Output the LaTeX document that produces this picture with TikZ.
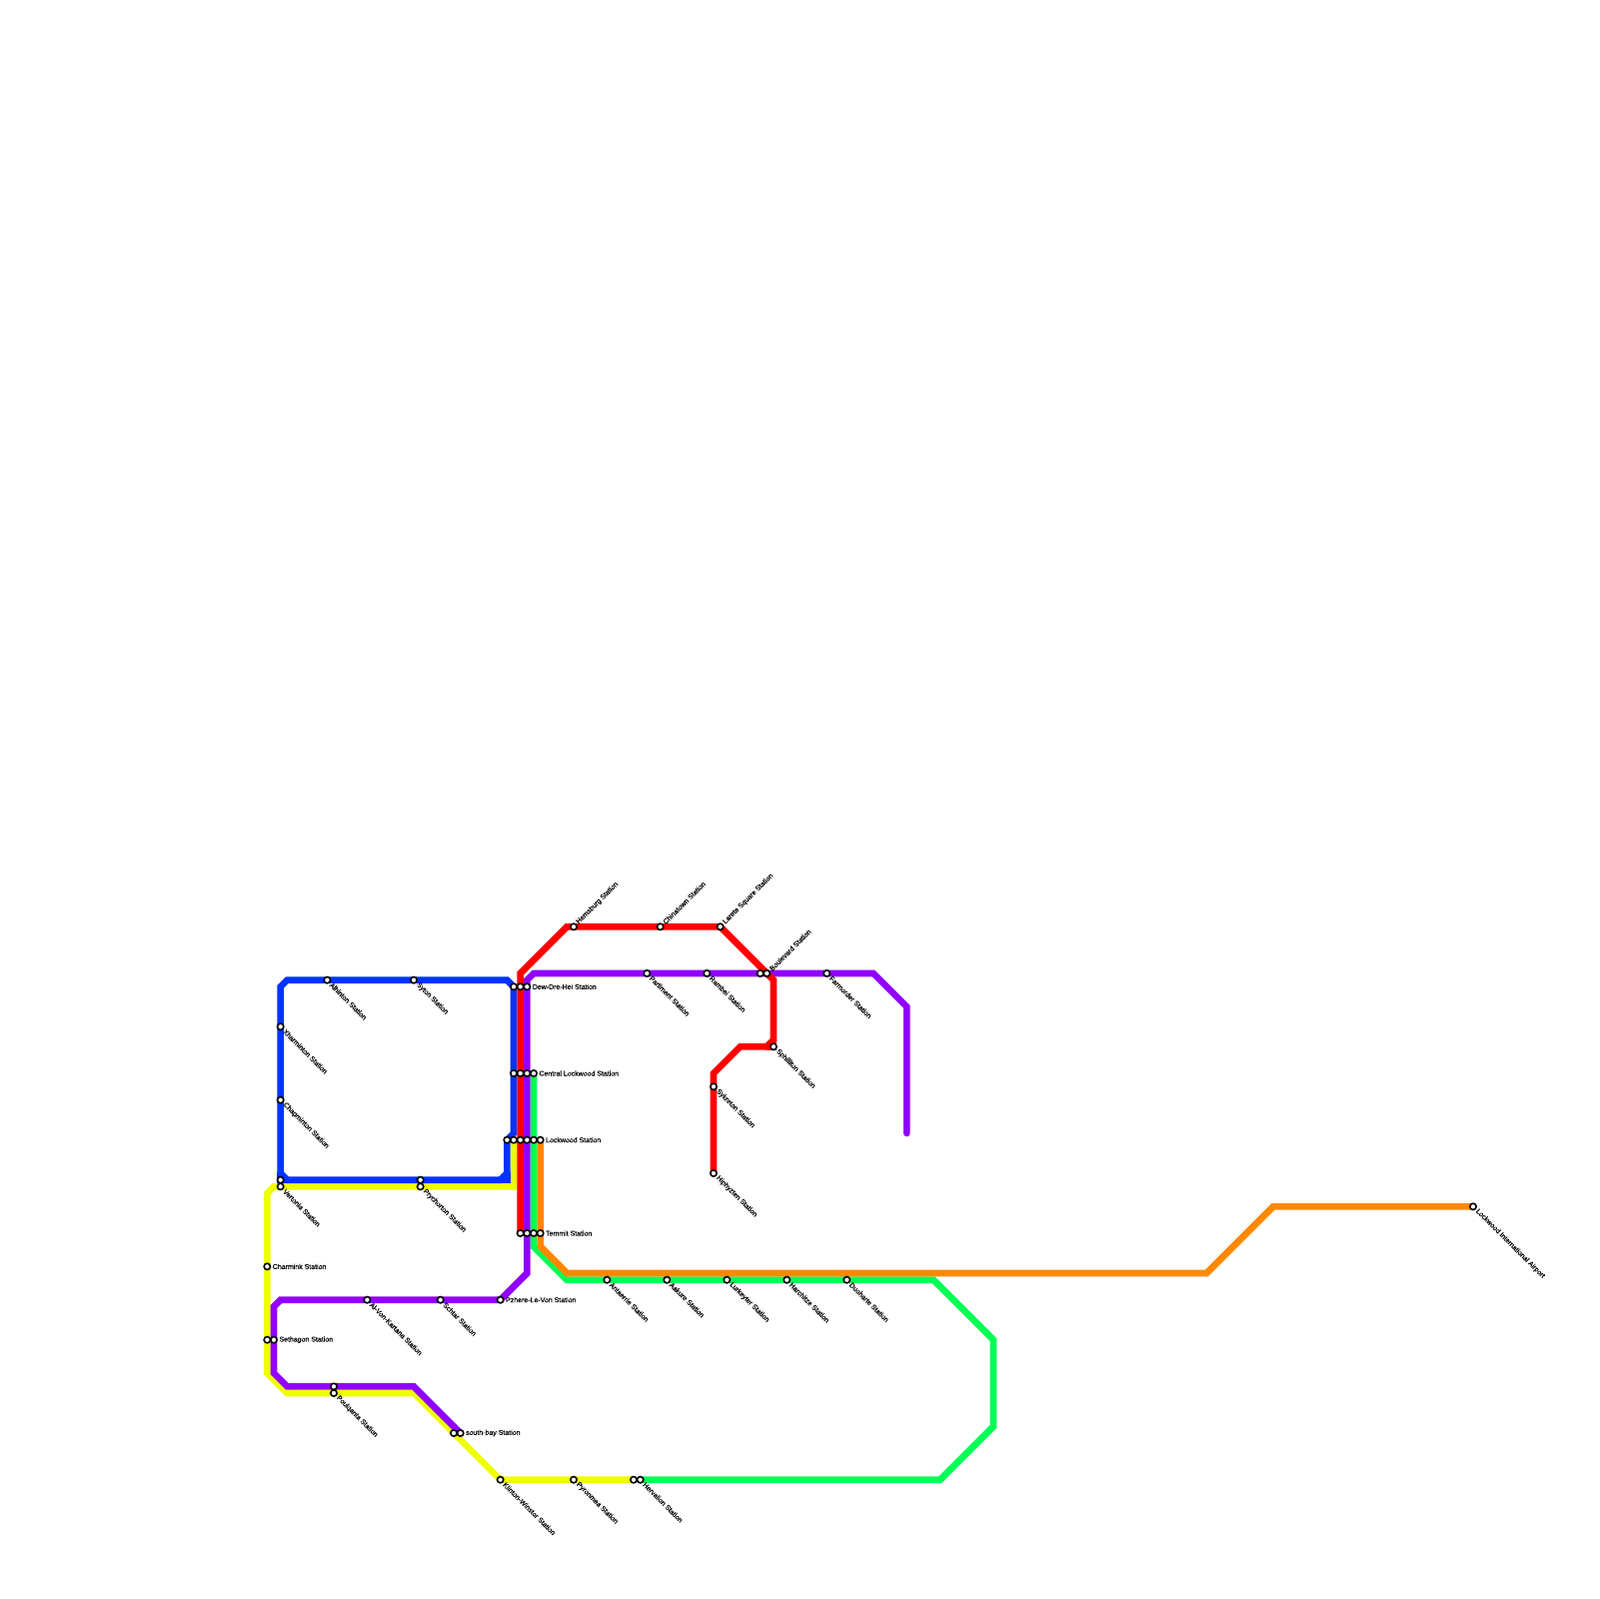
\documentclass[tikz,border=0pt]{standalone}
\usepackage{fontspec}
\setmainfont{Liberation Sans}
\newfontfamily\labfont{Liberation Sans}[FakeBold=0.35]
\usetikzlibrary{backgrounds}
\definecolor{bluefill}{RGB}{0,51,255}
\definecolor{yellowfill}{RGB}{238,255,0}
\definecolor{redfill}{RGB}{255,0,0}
\definecolor{purplefill}{RGB}{145,0,255}
\definecolor{greenfill}{RGB}{0,255,85}
\definecolor{orangefill}{RGB}{255,136,0}
\begin{document}
\begin{tikzpicture}[
      x=1mm, y=-1mm,
      stn/.style={circle, draw=black, fill=white, line width=0.24mm, inner sep=0pt,
                  minimum size=0.95mm},
      lab/.style={font=\labfont\fontsize{2.98}{3.5}\selectfont, anchor=west, inner xsep=0.75mm,
                  inner ysep=0pt, text=black},
      labd/.style={lab, rotate=-45},
      labu/.style={lab, rotate=45},
      metro/.style={line width=1mm, line cap=round}
    ]
    \useasboundingbox (-0.1,-0.1) rectangle (239.9,239.9);

    % stations
    \node[stn] (dewa) at (77,148) {};
    \node[stn] (dewb) at (78,148) {};
    \node[stn] (dewc) at (79,148) {};
    \node[stn] (cena) at (77,161) {};
    \node[stn] (cenb) at (78,161) {};
    \node[stn] (cenc) at (79,161) {};
    \node[stn] (cend) at (80,161) {};
    \node[stn] (lwa) at (76,171) {};
    \node[stn] (lwb) at (77,171) {};
    \node[stn] (lwc) at (78,171) {};
    \node[stn] (lwd) at (79,171) {};
    \node[stn] (lwe) at (80,171) {};
    \node[stn] (lwf) at (81,171) {};
    \node[stn] (tema) at (78,185) {};
    \node[stn] (temb) at (79,185) {};
    \node[stn] (temc) at (80,185) {};
    \node[stn] (temd) at (81,185) {};
    \node[stn] (alhinton) at (49,147) {};
    \node[stn] (syton) at (62,147) {};
    \node[stn] (xharminton) at (42,154) {};
    \node[stn] (chagminton) at (42,165) {};
    \node[stn] (verta) at (42,177) {};
    \node[stn] (vertb) at (42,178) {};
    \node[stn] (prya) at (63,177) {};
    \node[stn] (pryb) at (63,178) {};
    \node[stn] (charmink) at (40,190) {};
    \node[stn] (setha) at (40,201) {};
    \node[stn] (sethb) at (41,201) {};
    \node[stn] (alvon) at (55,195) {};
    \node[stn] (schtar) at (66,195) {};
    \node[stn] (pzhere) at (75,195) {};
    \node[stn] (poua) at (50,208) {};
    \node[stn] (poub) at (50,209) {};
    \node[stn] (sba) at (68,215) {};
    \node[stn] (sbb) at (69,215) {};
    \node[stn] (klinton) at (75,222) {};
    \node[stn] (pyronmea) at (86,222) {};
    \node[stn] (herva) at (95,222) {};
    \node[stn] (hervb) at (96,222) {};
    \node[stn] (antaerrie) at (91,192) {};
    \node[stn] (aakure) at (100,192) {};
    \node[stn] (lurkeyter) at (109,192) {};
    \node[stn] (harchitze) at (118,192) {};
    \node[stn] (duoharte) at (127,192) {};
    \node[stn] (hemsburg) at (86,139) {};
    \node[stn] (chinatown) at (99,139) {};
    \node[stn] (larete) at (108,139) {};
    \node[stn] (parliment) at (97,146) {};
    \node[stn] (rambei) at (106,146) {};
    \node[stn] (bouva) at (114,146) {};
    \node[stn] (bouvb) at (115,146) {};
    \node[stn] (farmorder) at (124,146) {};
    \node[stn] (sphilliton) at (116,157) {};
    \node[stn] (sykreton) at (107,163) {};
    \node[stn] (hiphyzten) at (107,176) {};
    \node[stn] (airport) at (221,181) {};

    % labels
    \node[lab] (ldew) at (dewc) {Dew-Dre-Hei Station};
    \node[lab] (lcen) at (cend) {Central Lockwood Station};
    \node[lab] (llw) at (lwf) {Lockwood Station};
    \node[lab] (ltem) at (temd) {Temmit Station};
    \node[lab] (lcharmink) at (charmink) {Charmink Station};
    \node[lab] (lseth) at (sethb) {Sethagon Station};
    \node[lab] (lpzhere) at (pzhere) {Pzhere-Le-Von Station};
    \node[lab] (lsb) at (sbb) {south-bay Station};
    \node[labd] (lalhinton) at (alhinton) {Alhinton Station};
    \node[labd] (lsyton) at (syton) {Syton Station};
    \node[labd] (lxharminton) at (xharminton) {Xharminton Station};
    \node[labd] (lchagminton) at (chagminton) {Chagminton Station};
    \node[labd] (lvert) at (vertb) {Vertonia Station};
    \node[labd] (lpry) at (pryb) {Prychorton Station};
    \node[labd] (lalvon) at (alvon) {Al-Von-Kartana Station};
    \node[labd] (lschtar) at (schtar) {Schtar Station};
    \node[labd] (lpou) at (poub) {Poulqanta Station};
    \node[labd] (lklinton) at (klinton) {Klinton-Winstor Station};
    \node[labd] (lpyronmea) at (pyronmea) {Pyronmea Station};
    \node[labd] (lherv) at (hervb) {Hervalion Station};
    \node[labd] (lantaerrie) at (antaerrie) {Antaerrie Station};
    \node[labd] (laakure) at (aakure) {Aakure Station};
    \node[labd] (llurkeyter) at (lurkeyter) {Lurkeyter Station};
    \node[labd] (lharchitze) at (harchitze) {Harchitze Station};
    \node[labd] (lduoharte) at (duoharte) {Duoharte Station};
    \node[labd] (lparliment) at (parliment) {Parliment Station};
    \node[labd] (lrambei) at (rambei) {Rambei Station};
    \node[labd] (lfarmorder) at (farmorder) {Farmorder Station};
    \node[labd] (lsphilliton) at (sphilliton) {Sphilliton Station};
    \node[labd] (lsykreton) at (sykreton) {Sykreton Station};
    \node[labd] (lhiphyzten) at (hiphyzten) {Hiphyzten Station};
    \node[labd] (lairport) at (airport) {Lockwood International Airport};
    \node[labu] (lhemsburg) at (hemsburg) {Hemsburg Station};
    \node[labu] (lchinatown) at (chinatown) {Chinatown Station};
    \node[labu] (llarete) at (larete) {Larete Square Station};
    \node[labu] (lbouv) at (bouvb) {Boulevard Station};

    % bends
    \coordinate (bluea) at (76,147);
    \coordinate (blueb) at (77,170);
    \coordinate (bluec) at (76,176);
    \coordinate (blued) at (75,177);
    \coordinate (bluee) at (43,177);
    \coordinate (bluef) at (42,176);
    \coordinate (blueg) at (42,148);
    \coordinate (blueh) at (43,147);
    \coordinate (bluei) at (76,177);
    \coordinate (yela) at (77,178);
    \coordinate (yelb) at (41,178);
    \coordinate (yelc) at (40,179);
    \coordinate (yeld) at (40,206);
    \coordinate (yele) at (43,209);
    \coordinate (yelf) at (62,209);
    \coordinate (purpa) at (62,208);
    \coordinate (purpb) at (43,208);
    \coordinate (purpc) at (41,206);
    \coordinate (purpd) at (41,196);
    \coordinate (purpe) at (42,195);
    \coordinate (purpf) at (79,191);
    \coordinate (purpg) at (79,147);
    \coordinate (purph) at (80,146);
    \coordinate (purpi) at (131,146);
    \coordinate (purpj) at (136,151);
    \coordinate (purpk) at (136,170);
    \coordinate (reda) at (78,146);
    \coordinate (redb) at (85,139);
    \coordinate (redc) at (116,147);
    \coordinate (redd) at (116,156);
    \coordinate (rede) at (115,157);
    \coordinate (redf) at (111,157);
    \coordinate (redg) at (107,161);
    \coordinate (grna) at (80,187);
    \coordinate (grnb) at (85,192);
    \coordinate (grnc) at (140,192);
    \coordinate (grnd) at (149,201);
    \coordinate (grne) at (149,214);
    \coordinate (grnf) at (141,222);
    \coordinate (orga) at (81,187);
    \coordinate (orgb) at (85,191);
    \coordinate (orgc) at (181,191);
    \coordinate (orgd) at (191,181);

    \begin{scope}[on background layer]
      \draw[metro, yellowfill] (lwb.center) -- (yela) -- (pryb.center) -- (vertb.center)
        -- (yelb) -- (yelc) -- (charmink.center) -- (setha.center) -- (yeld) -- (yele)
        -- (poub.center) -- (yelf) -- (sba.center) -- (klinton.center)
        -- (pyronmea.center) -- (herva.center);
      \draw[metro, bluefill] (alhinton.center) -- (syton.center) -- (bluea) -- (dewa.center)
        -- (cena.center) -- (blueb) -- (lwa.center) -- (bluec) -- (blued) -- (prya.center)
        -- (bluee) -- (bluef) -- (chagminton.center) -- (xharminton.center) -- (blueg)
        -- (blueh) -- cycle;
      \draw[metro, bluefill] (bluec) -- (bluei) -- (blued);
      \draw[metro, bluefill] (bluee) -- (verta.center) -- (bluef);
      \draw[metro, greenfill] (cend.center) -- (lwe.center) -- (temc.center) -- (grna)
        -- (grnb) -- (antaerrie.center) -- (aakure.center) -- (lurkeyter.center)
        -- (harchitze.center) -- (duoharte.center) -- (grnc) -- (grnd) -- (grne)
        -- (grnf) -- (hervb.center);
      \draw[metro, orangefill] (lwf.center) -- (temd.center) -- (orga) -- (orgb) -- (orgc)
        -- (orgd) -- (airport.center);
      \draw[metro, purplefill] (sbb.center) -- (purpa) -- (poua.center) -- (purpb) -- (purpc)
        -- (sethb.center) -- (purpd) -- (purpe) -- (alvon.center) -- (schtar.center)
        -- (pzhere.center) -- (purpf) -- (temb.center) -- (lwd.center) -- (cenc.center)
        -- (dewc.center) -- (purpg) -- (purph) -- (parliment.center) -- (rambei.center)
        -- (bouva.center) -- (bouvb.center) -- (farmorder.center) -- (purpi) -- (purpj)
        -- (purpk);
      \draw[metro, redfill] (tema.center) -- (lwc.center) -- (cenb.center) -- (dewb.center)
        -- (reda) -- (redb) -- (hemsburg.center) -- (chinatown.center) -- (larete.center)
        -- (bouvb.center) -- (redc) -- (redd) -- (rede) -- (redf) -- (redg)
        -- (sykreton.center) -- (hiphyzten.center);
      \draw[metro, redfill] (redd) -- (sphilliton.center) -- (rede);
    \end{scope}
  \end{tikzpicture}
\end{document}
